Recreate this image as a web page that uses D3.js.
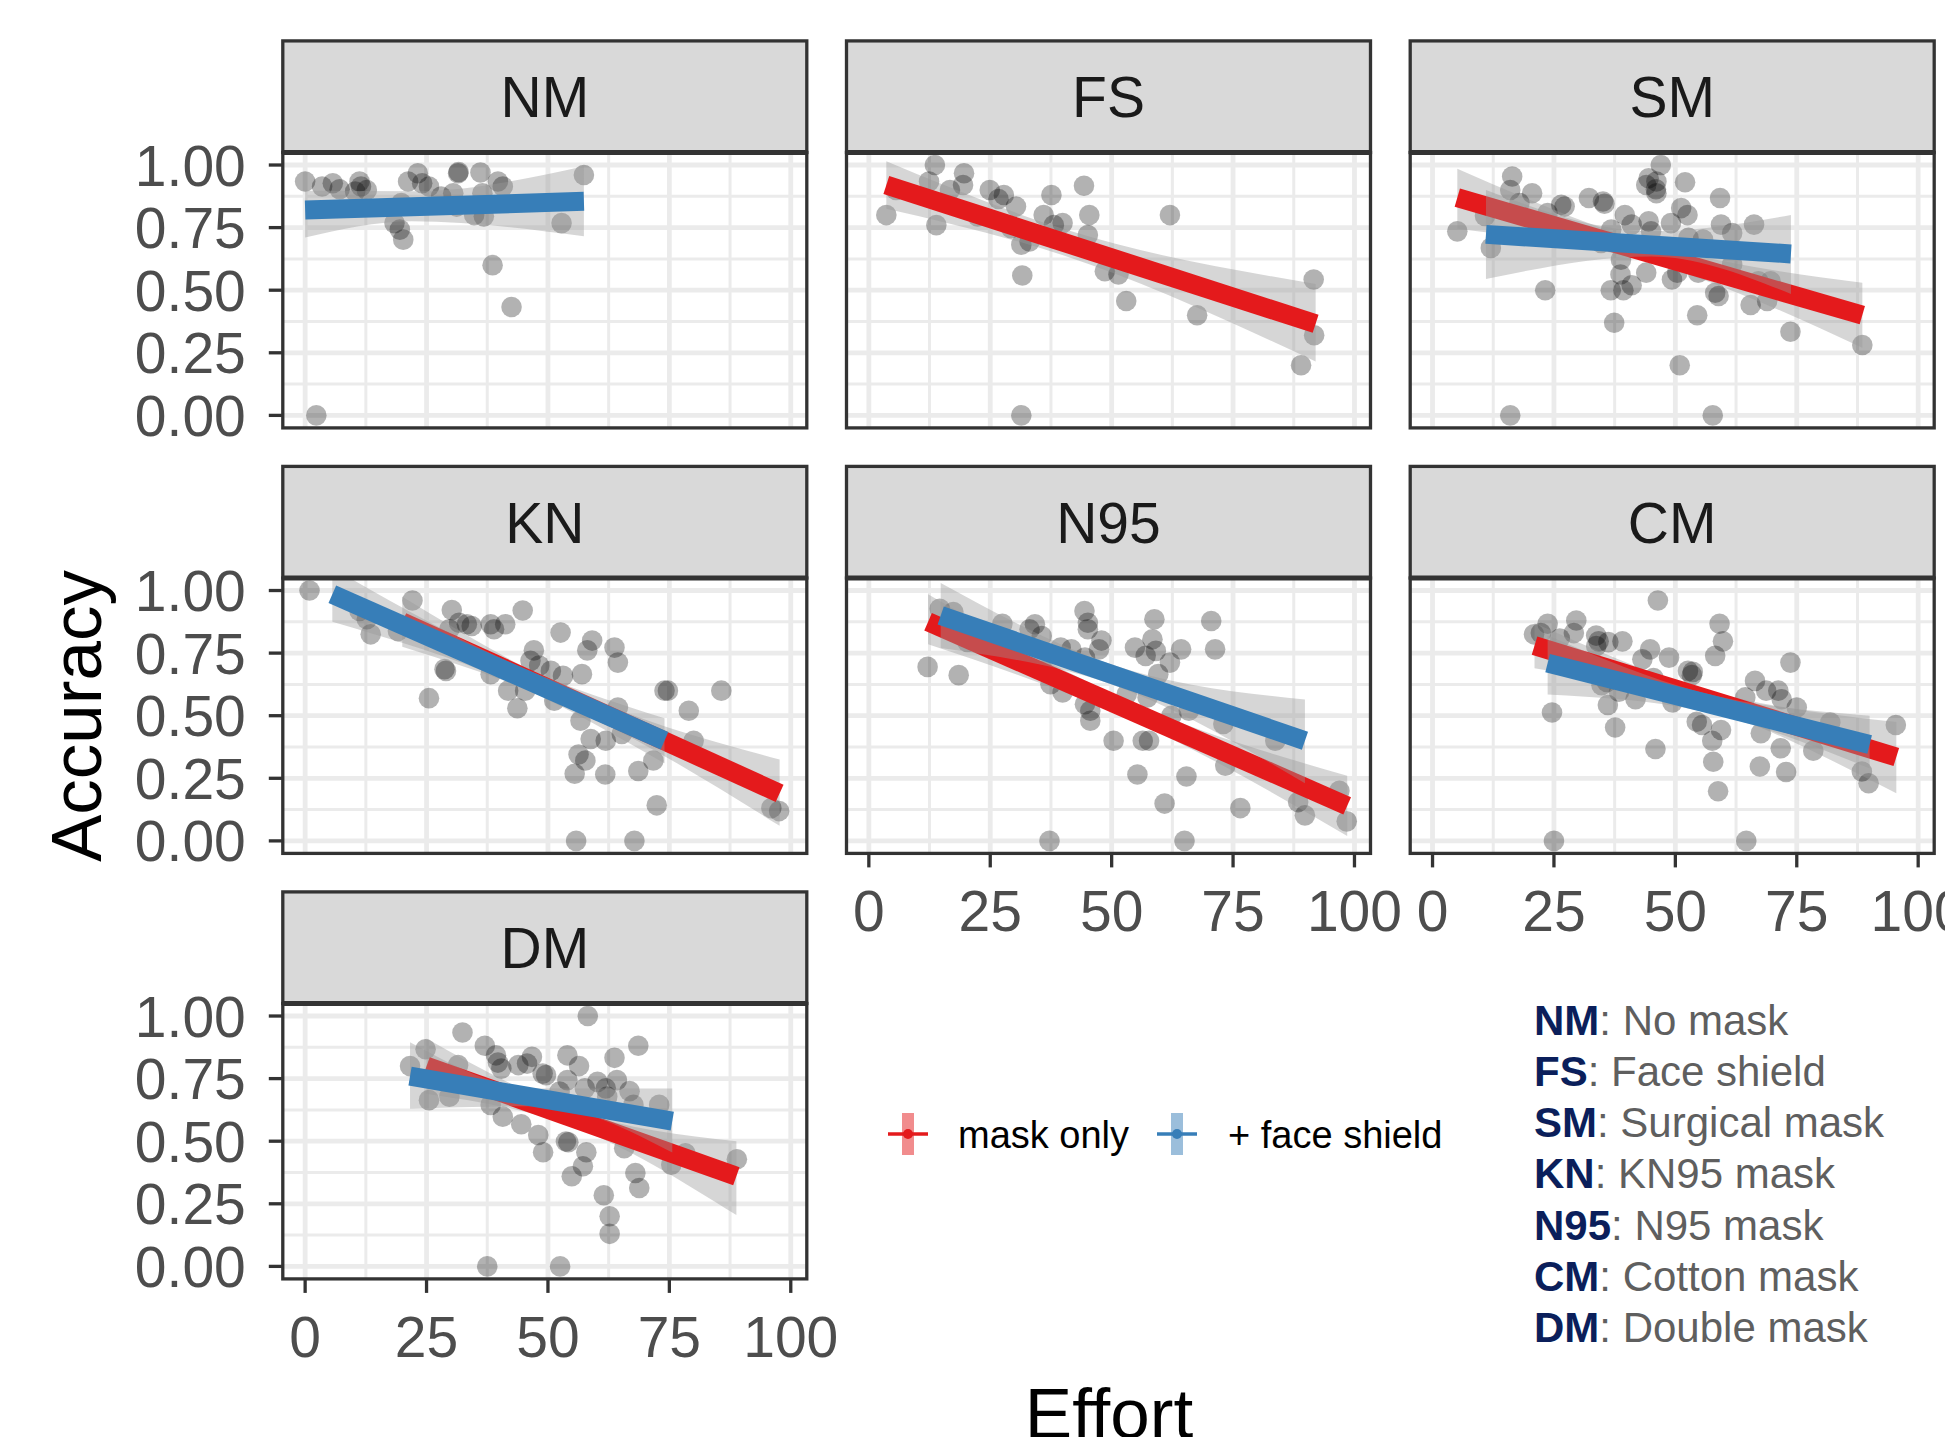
<!DOCTYPE html>
<html><head><meta charset="utf-8">
<script src="https://cdn.jsdelivr.net/npm/d3@7"></script>
<style>
body{margin:0;background:#fff;}
svg{display:block;font-family:"Liberation Sans",Arial,Helvetica,sans-serif;}
</style>
</head><body>
<svg id="chart" width="1945" height="1437"></svg>
<script>
// ---------------- DATA ----------------
const panelNames = ["NM","FS","SM","KN","N95","CM","DM"];
const xTicks = [0,25,50,75,100];
const xTickLabels = ["0","25","50","75","100"];
const yTicks = [0,0.25,0.5,0.75,1];
const yTickLabels = ["0.00","0.25","0.50","0.75","1.00"];
const seriesNames = ["mask only","+ face shield"];
const seriesColors = ["#E41A1C","#377EB8"];
const maskCodes = ["NM","FS","SM","KN","N95","CM","DM"];
const maskNames = ["No mask","Face shield","Surgical mask","KN95 mask","N95 mask","Cotton mask","Double mask"];

// points: [effort, accuracy]
const ptsNM = [[0,0.934],[3.5,0.914],[5.7,0.927],[7.1,0.903],[11.2,0.934],[11.5,0.914],[12.7,0.90],[10.3,0.894],
 [18.4,0.768],[19.5,0.742],[20.2,0.702],[19.8,0.848],[21.2,0.934],[23.2,0.967],[24.1,0.927],[25.5,0.914],
 [28,0.874],[30.5,0.887],[31.2,0.834],[31.5,0.967],[31.6,0.972],[36.1,0.97],[36.5,0.887],[34.8,0.80],
 [36.8,0.795],[39.7,0.934],[40.7,0.914],[38.6,0.60],[42.5,0.433],[52.8,0.768],[57.4,0.96],[2.3,0.0]];
const ptsFS = [[13.6,1.0],[19.6,0.967],[12.4,0.934],[19.4,0.92],[16.7,0.90],[5.6,0.90],[3.6,0.80],[13.9,0.76],
 [24.9,0.90],[27.8,0.88],[26.7,0.864],[30.3,0.834],[22.4,0.795],[29.3,0.748],[31.4,0.682],[33.1,0.695],
 [31.6,0.559],[36,0.80],[37.6,0.88],[38.1,0.76],[39.9,0.768],[44.3,0.917],[45.4,0.80],[45.1,0.72],
 [48.6,0.576],[51.4,0.563],[53,0.457],[62,0.80],[67.6,0.40],[91.6,0.543],[91.7,0.32],[89,0.20],[31.4,0.0]];
const ptsSM = [[5.1,0.735],[16.4,0.954],[16,0.90],[20.5,0.887],[10.8,0.797],[12,0.669],[17.9,0.848],[23.7,0.808],
 [26.5,0.841],[27.2,0.834],[32.2,0.868],[35.1,0.854],[35.4,0.845],[23.2,0.50],[39.6,0.80],[41,0.762],
 [44.5,0.775],[45,0.735],[36.8,0.742],[34.7,0.689],[38.8,0.622],[38.7,0.563],[41,0.52],[39.3,0.50],
 [36.7,0.50],[37.4,0.37],[44,0.92],[44.5,0.947],[46.1,0.934],[46,0.903],[46.1,0.887],[47,1.0],
 [52,0.931],[51.2,0.828],[52.5,0.80],[49.1,0.768],[44,0.57],[49.3,0.543],[50.4,0.57],[52.7,0.709],
 [55.7,0.702],[54.7,0.57],[54.5,0.40],[50.9,0.20],[59.2,0.868],[59.4,0.762],[61.7,0.728],[61.7,0.603],
 [58.2,0.49],[58.9,0.477],[66.2,0.762],[65.5,0.441],[67.1,0.536],[69.6,0.536],[68.9,0.457],[73.7,0.334],
 [88.5,0.281],[16,0.0],[57.7,0.0]];
const ptsKN = [[0.9,1.0],[11.2,0.918],[12.7,0.885],[13.5,0.825],[19.1,0.838],[22.1,0.96],[30.2,0.922],[31.7,0.871],
 [33.3,0.865],[34.3,0.858],[29.7,0.845],[38.2,0.865],[38.9,0.845],[41.2,0.865],[44.8,0.92],[52.6,0.832],
 [59.1,0.80],[58.1,0.761],[63.7,0.772],[64.4,0.712],[29,0.679],[28.7,0.686],[25.5,0.57],[38.2,0.666],
 [41.8,0.60],[43.7,0.53],[45.3,0.60],[47.1,0.761],[46.4,0.719],[48.2,0.70],[50.6,0.679],[53.1,0.659],
 [57,0.666],[51.3,0.56],[56.7,0.48],[58.8,0.407],[61.9,0.40],[64.4,0.533],[65.2,0.427],[56.3,0.345],
 [57.7,0.321],[55.5,0.268],[61.8,0.265],[68.6,0.279],[71.7,0.321],[74,0.60],[74.7,0.60],[79,0.52],
 [80,0.40],[85.7,0.60],[72.4,0.142],[96,0.131],[97.6,0.119],[55.8,0.0],[67.8,0.0]];
const ptsN95 = [[14.6,0.927],[17.4,0.914],[12.1,0.695],[18.5,0.662],[20.3,0.795],[27.5,0.867],[26.7,0.759],[34.2,0.865],
 [33.1,0.845],[35.6,0.818],[39.5,0.772],[41.7,0.765],[35.9,0.68],[37.4,0.626],[39.9,0.593],[44.4,0.918],
 [45.1,0.871],[45.1,0.845],[47.9,0.80],[47.4,0.765],[44.5,0.732],[44.5,0.546],[45.6,0.52],[45.6,0.48],
 [50.4,0.40],[56.4,0.40],[57.7,0.40],[55.3,0.265],[58.8,0.885],[58.4,0.805],[54.8,0.772],[57,0.739],
 [59.1,0.759],[62,0.712],[59.6,0.666],[64.3,0.765],[70.5,0.878],[71.3,0.765],[53.1,0.586],[57.4,0.573],
 [62.3,0.50],[65.9,0.52],[65.4,0.257],[60.9,0.149],[73,0.467],[73.4,0.30],[76.5,0.131],[83.7,0.40],
 [88.4,0.155],[89.8,0.102],[96.9,0.20],[98.4,0.078],[37.2,0.0],[65,0.0]];
const ptsCM = [[46.4,0.96],[23.7,0.867],[20.9,0.825],[22.3,0.83],[29.6,0.88],[29.1,0.83],[33.7,0.82],[34.2,0.797],
 [36.2,0.794],[39.1,0.797],[26.2,0.808],[33.7,0.778],[44.8,0.765],[43.2,0.725],[48.7,0.732],[59.1,0.867],
 [59.8,0.797],[58.2,0.739],[52.6,0.679],[53.6,0.675],[53.4,0.662],[45.5,0.65],[35.9,0.635],[38.4,0.596],
 [34.8,0.622],[41.8,0.566],[49.4,0.553],[36.1,0.543],[24.6,0.513],[37.6,0.453],[45.9,0.367],[54.4,0.476],
 [55.5,0.463],[59.4,0.443],[57.6,0.40],[57.8,0.316],[58.8,0.198],[66.4,0.639],[64.4,0.573],[68.7,0.60],
 [71.2,0.60],[71.9,0.566],[73.7,0.712],[67.6,0.43],[71.7,0.37],[67.4,0.297],[72.8,0.275],[75,0.533],
 [78.4,0.36],[81.9,0.473],[88.4,0.277],[89.8,0.23],[95.4,0.463],[25,0.0],[64.6,0.0]];
const ptsDM = [[58.2,1.0],[32.4,0.934],[24.8,0.867],[21.6,0.80],[37,0.881],[39.3,0.843],[39.7,0.814],[40.4,0.79],
 [43.9,0.804],[45.7,0.81],[46.7,0.837],[48.9,0.77],[49.6,0.764],[31.5,0.804],[54,0.843],[56.4,0.80],
 [54,0.744],[63.7,0.833],[68.6,0.881],[60.2,0.737],[61.9,0.711],[62.2,0.678],[64.2,0.744],[66.8,0.70],
 [67.6,0.645],[72.9,0.645],[57.6,0.711],[52.4,0.698],[25.5,0.664],[29.7,0.678],[38.2,0.645],[40.7,0.598],
 [44.5,0.568],[48,0.525],[49,0.456],[53.7,0.499],[54.2,0.496],[57.9,0.456],[57.2,0.40],[54.9,0.36],
 [65.7,0.472],[68,0.373],[68.8,0.313],[61.5,0.284],[62.7,0.20],[62.7,0.13],[75.4,0.406],[78.3,0.452],
 [88.9,0.428],[37.5,0.0],[52.5,0.0]];
const pointSets = [ptsNM, ptsFS, ptsSM, ptsKN, ptsN95, ptsCM, ptsDM];

// fitted lines: [panel, xStart, yStart, xEnd, yEnd]
const maskOnlyLines = [
 ["FS",3.6,0.92,92,0.366],["SM",5.1,0.87,88.5,0.40],["KN",20,0.875,97.7,0.19],
 ["N95",12.2,0.875,98.5,0.14],["CM",21,0.78,95.5,0.335],["DM",25,0.80,88.8,0.36]];
const faceShieldLines = [
 ["NM",0,0.82,57.4,0.855],["SM",11,0.723,73.8,0.645],["KN",5.6,0.985,74,0.40],
 ["N95",14.8,0.90,89.8,0.40],["CM",23.7,0.71,90,0.385],["DM",21.6,0.76,75.6,0.58]];
// confidence bands: [panel, [x, lower, upper] at start / middle / end]
const maskOnlyBands = [
 ["FS",[[3.6,0.825,1.015],[40,0.64,0.745],[92,0.215,0.525]]],
 ["SM",[[5.1,0.745,0.985],[45,0.61,0.685],[88.5,0.27,0.53]]],
 ["KN",[[20,0.775,0.975],[55,0.53,0.60],[97.7,0.06,0.325]]],
 ["N95",[[12.2,0.785,0.985],[55,0.475,0.545],[98.5,0.02,0.26]]],
 ["CM",[[21,0.69,0.87],[55,0.545,0.61],[95.5,0.19,0.475]]],
 ["DM",[[25,0.69,0.91],[55,0.56,0.625],[88.8,0.205,0.50]]]];
const faceShieldBands = [
 ["NM",[[0,0.71,0.897],[22,0.775,0.895],[57.4,0.715,0.995]]],
 ["SM",[[11,0.545,0.90],[45,0.635,0.735],[73.8,0.485,0.80]]],
 ["KN",[[5.6,0.875,1.09],[45,0.61,0.69],[74,0.31,0.49]]],
 ["N95",[[14.8,0.77,1.03],[50,0.625,0.705],[89.8,0.23,0.565]]],
 ["CM",[[23.7,0.585,0.82],[55,0.52,0.595],[90,0.29,0.50]]],
 ["DM",[[21.6,0.63,0.895],[48,0.64,0.71],[75.6,0.455,0.71]]]];

// ---------------- LAYOUT ----------------
const svg = d3.select("#chart");
const FONT = 57;
const L0 = 282.8, COLSTEP = 563.7, PW = 524;
const T0 = 40.9, ROWSTEP = 425.5, SH = 111.6, PH = 275.4;
const dark = "#333333";
const defs = svg.append("defs");

function panelGeom(i){
  const col = i % 3, row = Math.floor(i / 3);
  const left = L0 + col*COLSTEP, stripTop = T0 + row*ROWSTEP;
  const top = stripTop + SH, bottom = top + PH;
  return {col,row,left,right:left+PW,stripTop,top,bottom};
}

panelNames.forEach((name,i)=>{
  const g = panelGeom(i);
  const x = d3.scaleLinear().domain([-4.6,103.3]).range([g.left,g.right]);
  const y = d3.scaleLinear().domain([-0.05,1.05]).range([g.bottom,g.top]);
  const clipId = "clip"+i;
  defs.append("clipPath").attr("id",clipId).append("rect")
    .attr("x",g.left).attr("y",g.top).attr("width",PW).attr("height",PH);

  const pg = svg.append("g");
  pg.append("rect").attr("x",g.left).attr("y",g.top).attr("width",PW).attr("height",PH).attr("fill","#fff");
  const grid = pg.append("g").attr("clip-path",`url(#${clipId})`);
  [12.5,37.5,62.5,87.5].forEach(v=>grid.append("line").attr("x1",x(v)).attr("x2",x(v)).attr("y1",g.top).attr("y2",g.bottom)
     .attr("stroke","#ebebeb").attr("stroke-width",3));
  [0.125,0.375,0.625,0.875].forEach(v=>grid.append("line").attr("y1",y(v)).attr("y2",y(v)).attr("x1",g.left).attr("x2",g.right)
     .attr("stroke","#ebebeb").attr("stroke-width",3));
  xTicks.forEach(v=>grid.append("line").attr("x1",x(v)).attr("x2",x(v)).attr("y1",g.top).attr("y2",g.bottom)
     .attr("stroke","#ebebeb").attr("stroke-width",4.8));
  yTicks.forEach(v=>grid.append("line").attr("y1",y(v)).attr("y2",y(v)).attr("x1",g.left).attr("x2",g.right)
     .attr("stroke","#ebebeb").attr("stroke-width",4.8));

  const data = pg.append("g").attr("clip-path",`url(#${clipId})`);
  data.selectAll("circle").data(pointSets[i]).join("circle")
    .attr("cx",d=>x(d[0])).attr("cy",d=>y(d[1])).attr("r",10.3)
    .attr("fill","#000").attr("fill-opacity",0.3);

  const area = d3.area().x(d=>x(d[0])).y0(d=>y(d[1])).y1(d=>y(d[2])).curve(d3.curveMonotoneX);
  [[maskOnlyBands,maskOnlyLines,0],[faceShieldBands,faceShieldLines,1]].forEach(([bands,lines,s])=>{
    const b = bands.find(r=>r[0]===name);
    if (b) data.append("path").attr("d",area(b[1])).attr("fill","#999999").attr("fill-opacity",0.4);
    const l = lines.find(r=>r[0]===name);
    if (l) data.append("line").attr("x1",x(l[1])).attr("y1",y(l[2])).attr("x2",x(l[3])).attr("y2",y(l[4]))
      .attr("stroke",seriesColors[s]).attr("stroke-width",19).attr("stroke-linecap","butt");
  });

  pg.append("rect").attr("x",g.left).attr("y",g.top).attr("width",PW).attr("height",PH)
    .attr("fill","none").attr("stroke",dark).attr("stroke-width",3.3);
  pg.append("rect").attr("x",g.left).attr("y",g.stripTop).attr("width",PW).attr("height",SH)
    .attr("fill","#d9d9d9").attr("stroke",dark).attr("stroke-width",3.3);
  pg.append("line").attr("x1",g.left).attr("x2",g.right).attr("y1",g.top).attr("y2",g.top)
    .attr("stroke",dark).attr("stroke-width",5);
  pg.append("text").attr("x",(g.left+g.right)/2).attr("y",g.stripTop+SH/2).attr("dy","0.36em")
    .attr("text-anchor","middle").attr("font-size",FONT).attr("fill","#1a1a1a").text(name);

  if (g.col===0){
    yTicks.forEach((v,k)=>{
      pg.append("line").attr("x1",g.left-14).attr("x2",g.left).attr("y1",y(v)).attr("y2",y(v))
        .attr("stroke",dark).attr("stroke-width",3.3);
      pg.append("text").attr("x",g.left-37).attr("y",y(v)).attr("dy","0.36em").attr("text-anchor","end")
        .attr("font-size",FONT).attr("fill","#4d4d4d").text(yTickLabels[k]);
    });
  }
  if (i>=4){
    xTicks.forEach((v,k)=>{
      pg.append("line").attr("x1",x(v)).attr("x2",x(v)).attr("y1",g.bottom).attr("y2",g.bottom+14)
        .attr("stroke",dark).attr("stroke-width",3.3);
      pg.append("text").attr("x",x(v)).attr("y",g.bottom+78).attr("text-anchor","middle")
        .attr("font-size",FONT).attr("fill","#4d4d4d").text(xTickLabels[k]);
    });
  }
});

svg.append("text").attr("transform","translate(101,716) rotate(-90)").attr("text-anchor","middle")
  .attr("font-size",71).attr("fill","#000").text("Accuracy");
svg.append("text").attr("x",1109).attr("y",1438).attr("text-anchor","middle")
  .attr("font-size",71).attr("fill","#000").text("Effort");

const keyX = [908,1177], textX = [958,1228], keyY = 1134;
seriesNames.forEach((s,k)=>{
  svg.append("rect").attr("x",keyX[k]-6).attr("y",keyY-21).attr("width",12).attr("height",42)
    .attr("fill",seriesColors[k]).attr("fill-opacity",0.5);
  svg.append("line").attr("x1",keyX[k]-20).attr("x2",keyX[k]+20).attr("y1",keyY).attr("y2",keyY)
    .attr("stroke",seriesColors[k]).attr("stroke-width",3.3);
  svg.append("circle").attr("cx",keyX[k]).attr("cy",keyY).attr("r",5).attr("fill",seriesColors[k]);
  svg.append("text").attr("x",textX[k]).attr("y",keyY).attr("dy","0.36em").attr("font-size",38)
    .attr("fill","#000").text(s);
});

maskCodes.forEach((c,k)=>{
  const t = svg.append("text").attr("x",1534).attr("y",1020+k*51.1).attr("dy","0.36em").attr("font-size",42);
  t.append("tspan").attr("font-weight","bold").attr("fill","#0b1f5b").text(c);
  t.append("tspan").attr("fill","#5f5f5f").text(": "+maskNames[k]);
});
</script>
</body></html>
